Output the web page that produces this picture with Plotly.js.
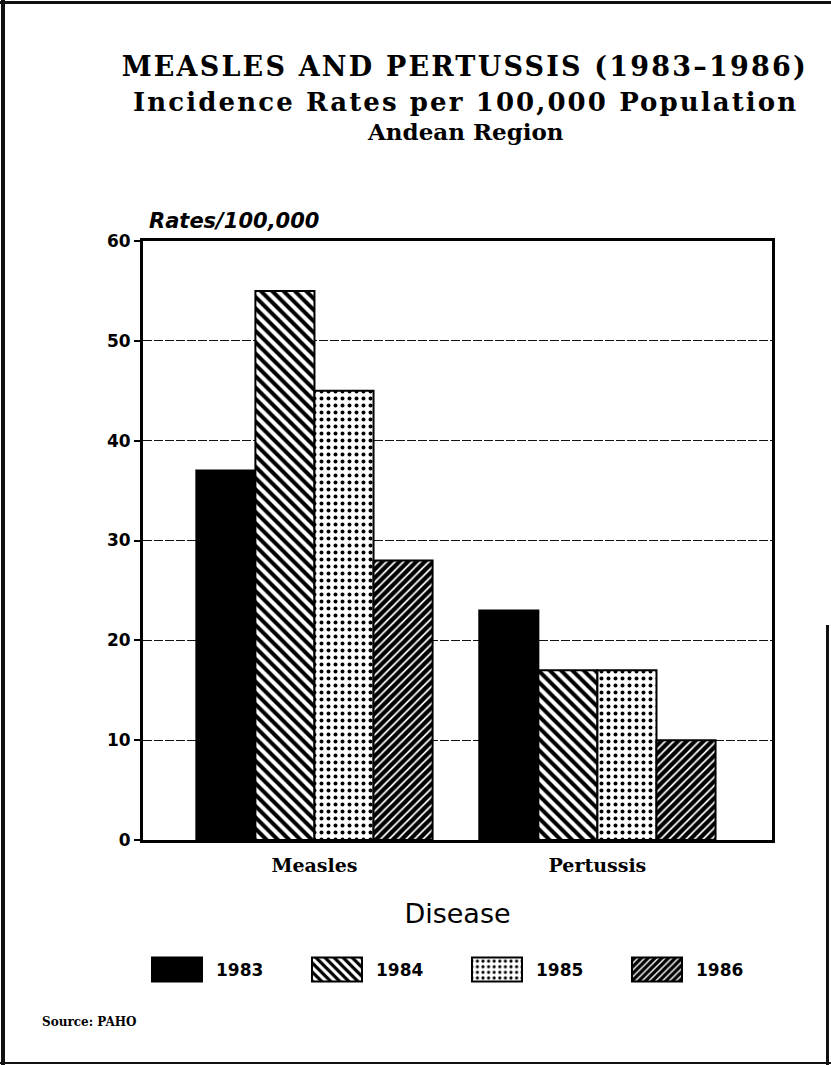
<!DOCTYPE html>
<html><head><meta charset="utf-8">
<script src="https://cdn.plot.ly/plotly-3.0.1.min.js"></script>
<style>
html,body{margin:0;padding:0;background:#fff;}
#wrap{position:relative;width:831px;height:1065px;overflow:hidden;background:#fff;}
#chart{position:absolute;left:0;top:0;width:831px;height:1065px;}
.bl{position:absolute;background:#111;}
</style></head><body>
<div id="wrap"><div id="chart"></div>
<div class="bl" style="left:1px;top:0;width:4px;height:1065px"></div>
<div class="bl" style="left:0;top:1px;width:831px;height:3px"></div>
<div class="bl" style="left:0;top:1062px;width:831px;height:2px"></div>
<div class="bl" style="left:826px;top:625px;width:3px;height:440px"></div>
</div>
<script>
const diseases = ['Measles', 'Pertussis'];
const years = ['1983', '1984', '1985', '1986'];
const rates1983 = [37, 23];
const rates1984 = [55, 17];
const rates1985 = [45, 17];
const rates1986 = [28, 10];
const yTicks = [0, 10, 20, 30, 40, 50, 60];

const seriesValues = [rates1983, rates1984, rates1985, rates1986];
const markers = [
  {color: '#000', line: {color: '#000', width: 2}},
  {color: '#fff', line: {color: '#000', width: 2}, pattern: {shape: '\\', fgcolor: '#000', bgcolor: '#fff', size: 8, solidity: 0.5, fillmode: 'replace'}},
  {color: '#fff', line: {color: '#000', width: 2}, pattern: {shape: '.', fgcolor: '#000', bgcolor: '#fff', size: 7, solidity: 0.25, fillmode: 'replace'}},
  {color: '#fff', line: {color: '#000', width: 2}, pattern: {shape: '/', fgcolor: '#000', bgcolor: '#fff', size: 6, solidity: 0.7, fillmode: 'replace'}}
];

const traces = years.map((yr, i) => ({
  type: 'bar', name: yr, x: diseases, y: seriesValues[i],
  marker: markers[i], hoverinfo: 'none'
}));

const serif = 'DejaVu Serif, Liberation Serif, serif';
const sansB = 'DejaVu Sans, Liberation Sans, sans-serif';

const layout = {
  width: 831, height: 1065,
  margin: {l: 143, r: 59, t: 241, b: 225},
  paper_bgcolor: 'rgba(0,0,0,0)', plot_bgcolor: '#fff',
  showlegend: true,
  barmode: 'group', bargap: 0.165, bargroupgap: 0,
  font: {family: sansB, color: '#000'},
  xaxis: {
    type: 'category', range: [-0.606, 1.617],
    showline: true, mirror: true, linecolor: '#000', linewidth: 3,
    ticks: '', showgrid: false, zeroline: false, ticklabelstandoff: 6,
    tickfont: {family: serif, size: 19, color: '#000', weight: 'bold'},
    title: {text: 'Disease', font: {family: 'DejaVu Sans, sans-serif', size: 27, color: '#000'}, standoff: 30}
  },
  yaxis: {
    range: [0, 60], tickvals: yTicks, ticktext: yTicks.map(String),
    showline: true, mirror: true, linecolor: '#000', linewidth: 3,
    ticks: 'outside', ticklen: 6, tickwidth: 2, tickcolor: '#000',
    showgrid: true, gridcolor: '#111', gridwidth: 1, griddash: '9px,2px',
    zeroline: false,
    tickfont: {family: sansB, size: 17, color: '#000', weight: 'bold'}
  },
  legend: {
    orientation: 'h', x: -0.0016, xanchor: 'left', y: -0.217, yanchor: 'middle',
    font: {family: sansB, size: 17, color: '#000', weight: 'bold'},
    itemwidth: 60, entrywidth: 85, entrywidthmode: 'pixels',
    bgcolor: 'rgba(0,0,0,0)', traceorder: 'normal'
  },
  annotations: [
    {text: 'MEASLES AND PERTUSSIS (1983\u20131986)', xref: 'paper', yref: 'paper', x: 0.512, y: 1.2905, xanchor: 'center', yanchor: 'middle', showarrow: false, font: {family: serif, size: 27, color: '#000', weight: 'bold'}},
    {text: 'Incidence Rates per 100,000 Population', xref: 'paper', yref: 'paper', x: 0.512, y: 1.232, xanchor: 'center', yanchor: 'middle', showarrow: false, font: {family: serif, size: 26, color: '#000', weight: 'bold'}},
    {text: 'Andean Region', xref: 'paper', yref: 'paper', x: 0.512, y: 1.1828, xanchor: 'center', yanchor: 'middle', showarrow: false, font: {family: serif, size: 23, color: '#000', weight: 'bold'}},
    {text: 'Rates/100,000', xref: 'paper', yref: 'paper', x: 0.006, y: 1.033, xanchor: 'left', yanchor: 'middle', showarrow: false, font: {family: sansB, size: 21, color: '#000', weight: 'bold', style: 'italic'}},
    {text: 'Source: PAHO', xref: 'paper', yref: 'paper', x: -0.1638, y: -0.304, xanchor: 'left', yanchor: 'middle', showarrow: false, font: {family: serif, size: 12, color: '#000', weight: 'bold'}}
  ]
};

Plotly.newPlot('chart', traces, layout, {staticPlot: true, displayModeBar: false}).then(gd => {
  gd.querySelectorAll('.legend .legendpoints path').forEach(p => {
    p.setAttribute('d', 'M25,12H-25V-12H25Z');
    p.style.strokeWidth = '2px';
    p.style.stroke = '#000';
  });
  gd.querySelectorAll('.legend text.legendtext').forEach(t => {
    const x = parseFloat(t.getAttribute('x') || '0');
    t.setAttribute('x', String(x + 4));
  });
  const annTexts = gd.querySelectorAll('.annotation-text');
  if (annTexts[0]) annTexts[0].style.letterSpacing = '2.2px';
  if (annTexts[1]) annTexts[1].style.letterSpacing = '2.1px';
});
</script>
</body></html>
